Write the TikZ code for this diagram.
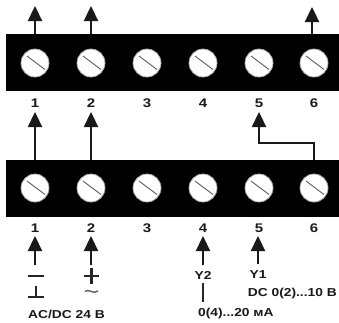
\documentclass[tikz,border=0pt]{standalone}
\usepackage{fontspec}
\setmainfont{Liberation Sans}[FakeStretch=1.2]
\usetikzlibrary{arrows.meta,calc}
\tikzset{
 block/.style={fill=black,draw=none,minimum width=333pt,minimum height=57pt,inner sep=0pt,outer sep=0pt},
 screw/.style={circle,fill=white,draw=black!35,line width=0.8pt,minimum size=28pt,inner sep=0pt,outer sep=0pt},
 slot/.style={draw=black!70,line width=0.8pt},
 wire/.style={draw=black!90,line width=2.3pt},
 arr/.style={wire,-{Triangle[length=15pt,width=14pt]}},
 lab/.style={font=\bfseries\fontsize{11.5}{12}\selectfont,inner sep=0pt,text=black!90},
 num/.style={font=\bfseries\fontsize{12.5}{13}\selectfont,inner sep=0pt,text=black!90},
 sym/.style={draw=black!85,line width=2.4pt}
}
\begin{document}
\begin{tikzpicture}[x=1pt,y=-1pt]
\useasboundingbox (0,0) rectangle (339,322);
\node[block] (blockA) at (172.5,62.5) {};
\node[block] (blockB) at (172.5,188) {};
\foreach \n/\x in {1/35,2/91,3/147,4/203,5/259,6/314}{
 \node[screw] (a\n) at (\x,63) {};
 \node[screw] (b\n) at (\x,188) {};
 \draw[slot] ($(a\n)+(-8,-7)$) -- ($(a\n)+(10,6.5)$);
 \draw[slot] ($(b\n)+(-8,-7)$) -- ($(b\n)+(10,6.5)$);
 \node[num] (la\n) at (\x,103.5) {\n};
 \node[num] (lb\n) at (\x,228.5) {\n};
}
% top arrows
\coordinate (t1) at (35,6);
\coordinate (t2) at (91,6);
\coordinate (t6) at (312,7);
\draw[arr] (t1 |- blockA.north) -- (t1);
\draw[arr] (t2 |- blockA.north) -- (t2);
\draw[arr] (t6 |- blockA.north) -- (t6);
% middle arrows
\coordinate (m1) at (35,112);
\coordinate (m2) at (91,112);
\coordinate (m5) at (259,112);
\coordinate (m6) at (314,143);
\draw[arr] (m1 |- blockB.north) -- (m1);
\draw[arr] (m2 |- blockB.north) -- (m2);
\draw[arr] (m6 |- blockB.north) -- (m6) -- (m5 |- m6) -- (m5);
% bottom arrows
\coordinate (f1) at (35,265);
\coordinate (f2) at (91,265);
\coordinate (f4) at (203,265);
\coordinate (f5) at (258,264);
\draw[arr] (f1) -- (35,236);
\draw[arr] (f2) -- (91,236);
\draw[arr] (f4) -- (203,236);
\draw[arr] (f5) -- (258,236);
% symbols
\draw[sym] (28,276) -- (44,276);
\draw[sym] (36,286) -- (36,297);
\draw[sym] (28,297) -- (44,297);
\draw[sym] (84,276) -- (99,276);
\draw[sym] (91.5,268) -- (91.5,284);
\draw[draw=black!60,line width=1.5pt] (85,291.5) .. controls (88,288) and (94,295) .. (98,291);
\draw[sym] (203,283) -- (203,302);
% texts
\node[lab,anchor=west] (t24) at (28,314) {AC/DC 24 В};
\node[lab] (ty2) at (203,275) {Y2};
\node[lab] (ty1) at (258,275) {Y1};
\node[lab,anchor=east] (t10) at (337,294) {DC 0(2)...10 В};
\node[lab,anchor=west] (t20) at (198,314) {0(4)...20 мА};
\end{tikzpicture}
\end{document}
